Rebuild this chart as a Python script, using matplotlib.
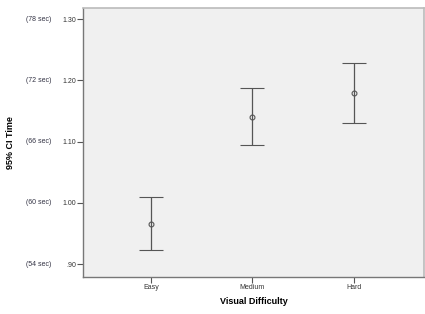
import numpy as np
import matplotlib
matplotlib.use('Agg')
import matplotlib.pyplot as plt
from matplotlib.ticker import FuncFormatter
from matplotlib.transforms import blended_transform_factory

plt.rcParams.update({'font.family': ['Liberation Sans', 'DejaVu Sans']})

# ── Data ──
levels = ["Easy", "Medium", "Hard"]
mean_t = [0.966, 1.140, 1.180]
ci_low = [0.923, 1.094, 1.130]
ci_high = [1.010, 1.187, 1.229]

y_ticks = [0.90, 1.00, 1.10, 1.20, 1.30]
sec_labels = ["(54 sec)", "(60 sec)", "(66 sec)", "(72 sec)", "(78 sec)"]

fig = plt.figure(figsize=(4.25, 3.14), dpi=100)
ax = fig.add_axes([83 / 425, 1 - 277 / 314, 341 / 425, 269 / 314])
ax.set_facecolor("#f0f0f0")

x = np.arange(len(levels))
mean_a = np.array(mean_t)
err = [mean_a - np.array(ci_low), np.array(ci_high) - mean_a]
ax.errorbar(x, mean_a, yerr=err, fmt="o", ms=3.5, mfc="none", mec="#555555",
            mew=0.8, ecolor="#555555", elinewidth=0.9, capsize=8.3, capthick=1.0)

ax.set_xlim(-0.67, 2.69)
ax.set_ylim(0.879, 1.318)
ax.set_xticks(x)
ax.set_xticklabels(levels)
ax.set_yticks(y_ticks)
ax.yaxis.set_major_formatter(FuncFormatter(
    lambda v, p: f"{v:.2f}".lstrip("0") if v < 1 else f"{v:.2f}"))
ax.tick_params(labelsize=5, length=4, width=0.8, color="#555555",
               labelcolor="#333333", pad=1.0)

for s in ["top", "right"]:
    ax.spines[s].set_color("#bbbbbb")
    ax.spines[s].set_linewidth(1.2)
for s in ["left", "bottom"]:
    ax.spines[s].set_color("#777777")
    ax.spines[s].set_linewidth(1.0)

tr = blended_transform_factory(ax.transAxes, ax.transData)
for v, lbl in zip(y_ticks, sec_labels):
    ax.text(-0.092, v, lbl, transform=tr, ha="right", va="center",
            fontsize=5, color="#334")

ax.set_xlabel("Visual Difficulty", fontsize=6.5, fontweight="bold", labelpad=4)
ax.set_ylabel("95% CI Time", fontsize=6.5, fontweight="bold")
ax.yaxis.set_label_coords(-0.2, 0.5)

plt.savefig("out.png", dpi=100)
plt.close()
